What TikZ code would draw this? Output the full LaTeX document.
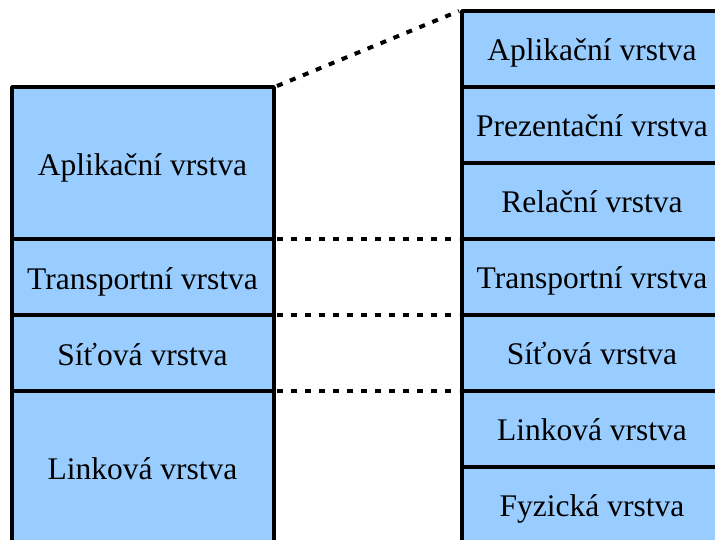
\documentclass[tikz,border=0pt]{standalone}
\usepackage{fontspec}
\setmainfont{Liberation Serif}
\definecolor{layer}{HTML}{99CCFF}
\begin{document}
\begin{tikzpicture}[x=1pt,y=-1pt,
  layerbox/.style={draw=black,fill=layer,line width=3.8pt,line join=round},
  lbl/.style={font=\fontsize{31.5}{36}\selectfont,inner sep=0pt,anchor=base},
  dotline/.style={line width=4pt,dash pattern=on 6pt off 8pt}]
\useasboundingbox (0,0) rectangle (715,539);
\clip (0,0) rectangle (715,539);
% left stack
\draw[layerbox] (12,87) rectangle (274,239);
\draw[layerbox] (12,239) rectangle (274,315);
\draw[layerbox] (12,315) rectangle (274,391);
\draw[layerbox] (12,391) rectangle (274,545);
\node[lbl] (l1) at (142.5,175) {Aplikační vrstva};
\node[lbl] (l2) at (142.5,289) {Transportní vrstva};
\node[lbl] (l3) at (142.5,365) {Síťová vrstva};
\node[lbl] (l4) at (142.5,479) {Linková vrstva};
% right stack
\foreach \t/\b in {11/87,87/163,163/239,239/315,315/391,391/467,467/545}
  \draw[layerbox] (462,\t) rectangle (724,\b);
\node[lbl] (r1) at (592,60.5) {Aplikační vrstva};
\node[lbl] (r2) at (592,136.5) {Prezentační vrstva};
\node[lbl] (r3) at (592,212.5) {Relační vrstva};
\node[lbl] (r4) at (592,288.5) {Transportní vrstva};
\node[lbl] (r5) at (592,364.5) {Síťová vrstva};
\node[lbl] (r6) at (592,440.5) {Linková vrstva};
\node[lbl] (r7) at (592,516.5) {Fyzická vrstva};
% dotted connectors
\coordinate (a1) at (277,86);
\coordinate (b1) at (459,11);
\coordinate (a2) at (277,239);
\coordinate (b2) at (459,239);
\coordinate (a3) at (277,315);
\coordinate (b3) at (459,315);
\coordinate (a4) at (277,391);
\coordinate (b4) at (459,391);
\draw[dotline] (a1) -- (b1);
\draw[dotline] (a2) -- (b2);
\draw[dotline] (a3) -- (b3);
\draw[dotline] (a4) -- (b4);
\end{tikzpicture}
\end{document}
